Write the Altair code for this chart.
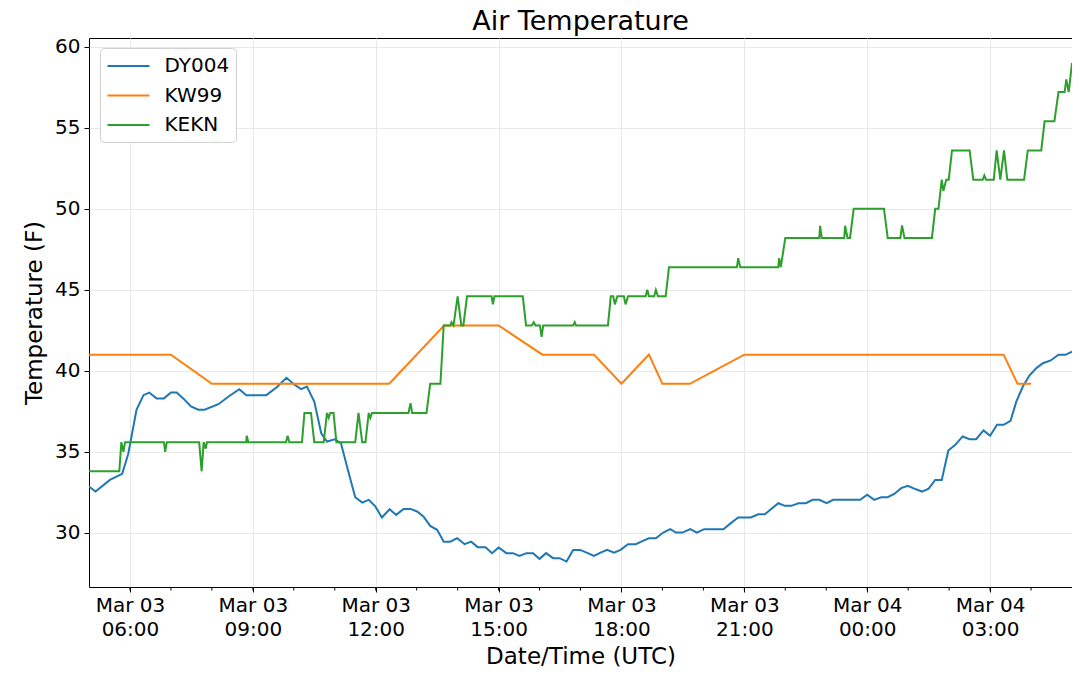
import altair as alt
import pandas as pd

BASE = "2019-03-03T00:00:00Z"

stations = ["DY004", "KW99", "KEKN"]
colors = ["#1f77b4", "#ff7f0e", "#2ca02c"]

# hours after Mar 03 00:00 UTC
dy004_hours = [5.0, 5.16, 5.51, 5.81, 5.96, 6.16, 6.33, 6.47, 6.65, 6.83, 7.0, 7.14, 7.3, 7.49,
               7.67, 7.82, 8.16, 8.4, 8.67, 8.84, 9.33, 9.59, 9.82, 10.02, 10.18, 10.32, 10.5,
               10.67, 10.81, 11.0, 11.15, 11.32, 11.5, 11.67, 11.83, 11.99, 12.15, 12.34, 12.5,
               12.68, 12.85, 13.01, 13.17, 13.33, 13.5, 13.66, 13.82, 13.99, 14.17, 14.33, 14.49,
               14.68, 14.84, 15.0, 15.19, 15.35, 15.51, 15.68, 15.84, 16.0, 16.16, 16.33, 16.49,
               16.66, 16.82, 16.99, 17.15, 17.33, 17.49, 17.65, 17.82, 17.98, 18.16, 18.35, 18.51,
               18.67, 18.84, 19.02, 19.19, 19.33, 19.49, 19.68, 19.84, 20.02, 20.49, 20.67, 20.85,
               21.16, 21.34, 21.5, 21.83, 21.99, 22.15, 22.32, 22.5, 22.67, 22.83, 23.01, 23.17,
               23.83, 24.0, 24.17, 24.34, 24.5, 24.66, 24.83, 24.99, 25.15, 25.34, 25.5, 25.66,
               25.82, 25.98, 26.15, 26.33, 26.5, 26.66, 26.84, 27.0, 27.17, 27.33, 27.5, 27.64,
               27.8, 27.96, 28.13, 28.29, 28.48, 28.67, 28.84, 29.0]
dy004_temps = [32.86, 32.55, 33.27, 33.64, 34.9, 37.6, 38.5, 38.66, 38.3, 38.3, 38.66, 38.66, 38.3,
               37.8, 37.6, 37.6, 37.94, 38.4, 38.87, 38.5, 38.5, 39.0, 39.57, 39.14, 38.87, 39.03,
               38.1, 36.15, 35.64, 35.78, 35.54, 33.9, 32.2, 31.87, 32.04, 31.64, 30.95, 31.46,
               31.11, 31.48, 31.48, 31.32, 31.0, 30.43, 30.19, 29.46, 29.46, 29.67, 29.3, 29.46,
               29.12, 29.12, 28.75, 29.1, 28.75, 28.75, 28.58, 28.75, 28.75, 28.4, 28.75, 28.44,
               28.44, 28.23, 28.95, 28.95, 28.78, 28.58, 28.78, 28.95, 28.78, 28.95, 29.3, 29.3,
               29.49, 29.67, 29.67, 30.02, 30.23, 30.02, 30.02, 30.23, 30.02, 30.23, 30.23, 30.6,
               30.95, 30.95, 31.15, 31.15, 31.83, 31.67, 31.67, 31.83, 31.83, 32.04, 32.04, 31.83,
               32.04, 32.04, 32.35, 32.04, 32.2, 32.2, 32.4, 32.76, 32.9, 32.73, 32.55, 32.73,
               33.27, 33.27, 35.08, 35.43, 35.95, 35.78, 35.78, 36.32, 35.99, 36.67, 36.67, 36.91,
               38.1, 39.03, 39.71, 40.17, 40.47, 40.64, 40.99, 40.99, 41.19]

kw99_hours = [5.0, 7.0, 8.0, 12.33, 13.67, 15.0, 16.07, 17.33, 18.0, 18.67, 19.0, 19.67, 21.0,
              27.33, 27.67, 28.0]
kw99_temps = [41.0, 41.0, 39.2, 39.2, 42.8, 42.8, 41.0, 41.0, 39.2, 41.0, 39.2, 39.2, 41.0,
              41.0, 39.2, 39.2]

kekn_hours = [5.0, 5.74, 5.79, 5.84, 5.88, 6.83, 6.86, 6.90, 7.69, 7.75, 7.80, 7.85, 7.88, 8.84,
              8.85, 8.89, 9.81, 9.85, 9.89, 10.20, 10.26, 10.42, 10.50, 10.73, 10.81, 10.85,
              10.89, 10.97, 11.04, 11.50, 11.58, 11.67, 11.75, 11.83, 11.87, 11.91, 12.80, 12.85,
              12.89, 13.24, 13.33, 13.58, 13.66, 13.82, 13.85, 13.90, 14.0, 14.09, 14.14, 14.23,
              14.83, 14.86, 14.90, 15.59, 15.67, 15.81, 15.86, 15.90, 16.01, 16.05, 16.09, 16.82,
              16.86, 16.89, 17.67, 17.74, 17.80, 17.84, 17.90, 18.06, 18.10, 18.16, 18.59, 18.63,
              18.67, 18.80, 18.84, 18.89, 19.08, 19.16, 20.82, 20.85, 20.90, 21.83, 21.85, 21.89,
              22.0, 22.83, 22.85, 22.89, 23.44, 23.46, 23.52, 23.58, 23.67, 24.41, 24.50, 24.81,
              24.85, 24.91, 25.58, 25.66, 25.74, 25.82, 25.86, 25.93, 25.99, 26.07, 26.50, 26.59,
              26.82, 26.86, 26.90, 27.09, 27.16, 27.25, 27.34, 27.42, 27.83, 27.92, 28.25, 28.33,
              28.57, 28.67, 28.82, 28.86, 28.92, 29.0]
kekn_temps = [33.8, 33.8, 35.6, 35.0, 35.6, 35.6, 35.0, 35.6, 35.6, 33.8, 35.6, 35.2, 35.6, 35.6,
              36.0, 35.6, 35.6, 36.0, 35.6, 35.6, 37.4, 37.4, 35.6, 35.6, 37.4, 37.1, 37.4, 37.4,
              35.6, 35.6, 37.4, 35.6, 35.6, 37.4, 37.1, 37.4, 37.4, 38.0, 37.4, 37.4, 39.2, 39.2,
              42.8, 42.8, 43.0, 42.8, 44.6, 42.8, 42.8, 44.6, 44.6, 44.1, 44.6, 44.6, 42.8, 42.8,
              43.0, 42.8, 42.8, 42.1, 42.8, 42.8, 43.0, 42.8, 42.8, 44.6, 44.6, 44.1, 44.6, 44.6,
              44.1, 44.6, 44.6, 45.0, 44.6, 44.6, 45.0, 44.6, 44.6, 46.4, 46.4, 46.95, 46.4, 46.4,
              46.95, 46.4, 48.2, 48.2, 48.95, 48.2, 48.2, 48.95, 48.2, 48.2, 50.0, 50.0, 48.2,
              48.2, 48.97, 48.2, 48.2, 50.0, 50.0, 51.8, 51.1, 51.8, 51.8, 53.6, 53.6, 51.8, 51.8,
              52.06, 51.8, 51.8, 53.6, 51.8, 53.6, 51.8, 51.8, 53.6, 53.6, 55.4, 55.4, 57.2, 57.2,
              57.98, 57.2, 59.0]

major_tick_hours = [6, 9, 12, 15, 18, 21, 24, 27]
minor_tick_hours = list(range(6, 29))
x_domain_hours = [5, 29]
y_domain = [26.66, 60.54]
y_ticks = [30, 35, 40, 45, 50, 55, 60]

base = pd.Timestamp(BASE)


def to_iso(hours):
    return [(base + pd.Timedelta(hours=h)).strftime("%Y-%m-%dT%H:%M:%SZ") for h in hours]


def to_ms(hours):
    return [int((base + pd.Timedelta(hours=h)).value // 10**6) for h in hours]


frames = []
for name, hrs, temps in [("DY004", dy004_hours, dy004_temps),
                         ("KW99", kw99_hours, kw99_temps),
                         ("KEKN", kekn_hours, kekn_temps)]:
    frames.append(pd.DataFrame({"t": to_iso(hrs), "temp": temps, "station": name}))
df = pd.concat(frames, ignore_index=True)
minor_df = pd.DataFrame({"t": to_iso(minor_tick_hours)})

W, H = 983, 549
FONT = "DejaVu Sans"

xscale = alt.Scale(type="utc", domain=to_ms(x_domain_hours), nice=False)
xaxis = alt.Axis(values=to_ms(major_tick_hours),
                 labelExpr="[utcFormat(datum.value, '%b %d'), utcFormat(datum.value, '%H:%M')]",
                 labelLineHeight=24, labelPadding=3, titlePadding=6,
                 labelAlign="center", labelBaseline="top")

lines = alt.Chart(df).mark_line(strokeWidth=2, clip=True).encode(
    x=alt.X("t:T", scale=xscale, title="Date/Time (UTC)", axis=xaxis),
    y=alt.Y("temp:Q", scale=alt.Scale(domain=y_domain, nice=False, zero=False),
            title="Temperature (F)",
            axis=alt.Axis(values=y_ticks, labelPadding=4, titlePadding=8)),
    color=alt.Color("station:N",
                    scale=alt.Scale(domain=stations, range=colors),
                    sort=stations,
                    legend=alt.Legend(orient="none", legendX=11, legendY=10, title=None,
                                      fillColor="white", strokeColor="#d0d0d0",
                                      cornerRadius=4, padding=6.5,
                                      symbolType="M-1,0H3", symbolSize=441,
                                      symbolStrokeWidth=2, labelFontSize=20,
                                      labelFont=FONT, labelColor="black",
                                      rowPadding=7.5, labelOffset=35)),
)

minor = alt.Chart(minor_df).mark_rule(color="black", strokeWidth=1).encode(
    x=alt.X("t:T", scale=xscale, title="Date/Time (UTC)", axis=xaxis),
    y=alt.value(H),
    y2=alt.value(H + 3.5),
)

chart = alt.layer(lines, minor).properties(
    width=W, height=H,
    title=alt.TitleParams("Air Temperature", fontSize=27, font=FONT, fontWeight="normal",
                          color="black", anchor="middle", offset=1),
    autosize=alt.AutoSizeParams(type="none"),
    padding={"left": 81, "top": 30, "right": 0, "bottom": 80},
).configure(
    font=FONT
).configure_view(
    stroke="black", strokeWidth=1
).configure_axis(
    labelFont=FONT, labelFontSize=20, labelColor="black",
    titleFont=FONT, titleFontSize=23, titleFontWeight="normal", titleColor="black",
    tickColor="black", tickSize=5, tickWidth=1,
    domain=False, grid=True, gridColor="#e8e8e8", gridWidth=1,
)

chart.save("out.html", embed_options={"renderer": "svg", "actions": False})
